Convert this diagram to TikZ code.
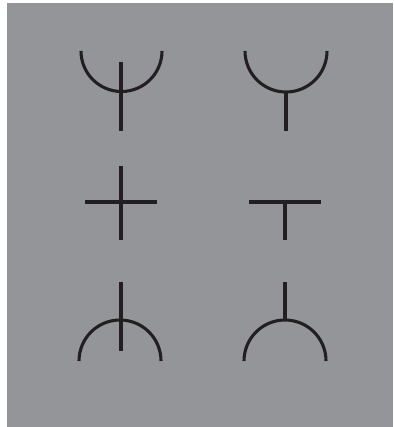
\documentclass[tikz,border=0pt]{standalone}
\usepackage{tikz}
\definecolor{panelgray}{RGB}{147,149,152}
\definecolor{inkblack}{RGB}{35,31,32}
\tikzset{
  sym/.style={draw=inkblack, line width=2.2pt},
}
\begin{document}
\begin{tikzpicture}[x=0.025cm,y=-0.025cm]
  % page and grey panel
  \useasboundingbox (0,0) rectangle (394,427);
  \fill[white] (0,0) rectangle (394,427);
  \fill[panelgray] (7,3) rectangle (393,427);
  % top row: cups with stem
  \draw[sym] (162,51) arc[start angle=0,end angle=180,radius=40.5];
  \draw[sym] (121,62)--(121,131);
  \draw[sym] (327,51) arc[start angle=0,end angle=180,radius=41];
  \draw[sym] (286,92)--(286,131);
  % middle row: cross and tee
  \draw[sym] (85,202)--(157,202);
  \draw[sym] (121,166)--(121,240);
  \draw[sym] (249,202)--(321,202);
  \draw[sym] (285,202)--(285,240);
  % bottom row: domes with stem
  \draw[sym] (161,361) arc[start angle=0,end angle=-180,radius=41];
  \draw[sym] (121,282)--(121,351);
  \draw[sym] (326,361) arc[start angle=0,end angle=-180,radius=41];
  \draw[sym] (285,282)--(285,320);
\end{tikzpicture}
\end{document}
